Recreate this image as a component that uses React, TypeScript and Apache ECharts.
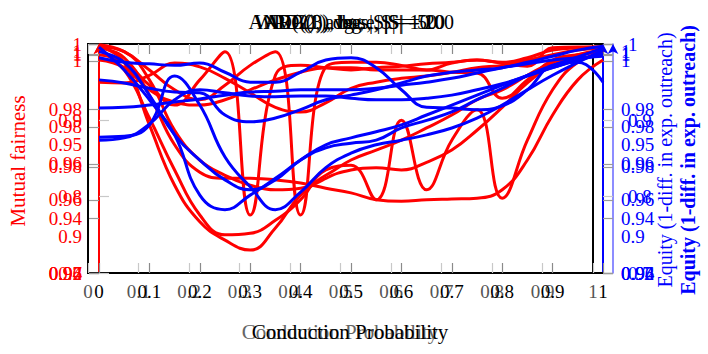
import React, { useEffect, useRef } from "react";
import * as echarts from "echarts";

// Conduction probability grid
const X = [0, 0.05, 0.1, 0.15, 0.2, 0.25, 0.3, 0.35, 0.4, 0.45, 0.5, 0.55, 0.6, 0.65, 0.7, 0.75, 0.8, 0.85, 0.9, 0.95, 1];

// Mutual fairness (red)
const redA = [0.997, 0.976, 0.894, 0.815, 0.767, 0.743, 0.730, 0.759, 0.802, 0.824, 0.835, 0.838, 0.835, 0.845, 0.861, 0.887, 0.917, 0.949, 0.972, 0.984, 0.992];
const redB = [0.992, 0.966, 0.903, 0.835, 0.776, 0.750, 0.752, 0.769, 0.796, 0.835, 0.841, 0.796, 0.900, 0.809, 0.874, 0.914, 0.798, 0.874, 0.940, 0.976, 0.988];
const redC = [0.995, 0.982, 0.933, 0.868, 0.832, 0.824, 0.824, 0.822, 0.818, 0.811, 0.805, 0.796, 0.794, 0.796, 0.797, 0.798, 0.809, 0.848, 0.907, 0.953, 0.979];
const redD = [0.986, 0.976, 0.946, 0.920, 0.953, 0.990, 0.776, 0.959, 0.972, 0.969, 0.966, 0.969, 0.971, 0.974, 0.976, 0.979, 0.976, 0.982, 0.992, 0.995, 0.996];
const redE = [0.999, 0.990, 0.966, 0.940, 0.927, 0.946, 0.972, 0.990, 0.776, 0.970, 0.976, 0.976, 0.972, 0.966, 0.975, 0.979, 0.975, 0.971, 0.995, 0.996, 0.996];
const redF = [0.950, 0.949, 0.959, 0.975, 0.970, 0.955, 0.936, 0.917, 0.911, 0.923, 0.942, 0.950, 0.955, 0.958, 0.963, 0.969, 0.972, 0.979, 0.986, 0.992, 0.995];
const redG = [0.979, 0.969, 0.940, 0.924, 0.920, 0.927, 0.940, 0.953, 0.963, 0.969, 0.969, 0.966, 0.966, 0.966, 0.963, 0.962, 0.929, 0.953, 0.979, 0.986, 0.990];
const redH = [0.996, 0.990, 0.953, 0.887, 0.848, 0.828, 0.815, 0.809, 0.811, 0.828, 0.848, 0.861, 0.874, 0.890, 0.907, 0.927, 0.940, 0.959, 0.976, 0.986, 0.992];

// Equity (blue)
const blueA = [0.982, 0.976, 0.974, 0.972, 0.975, 0.963, 0.950, 0.950, 0.963, 0.979, 0.982, 0.969, 0.940, 0.917, 0.916, 0.914, 0.919, 0.940, 0.972, 0.976, 0.950];
const blueB = [0.916, 0.917, 0.920, 0.924, 0.928, 0.933, 0.937, 0.938, 0.940, 0.940, 0.940, 0.942, 0.946, 0.950, 0.955, 0.962, 0.969, 0.974, 0.979, 0.982, 0.984];
const blueC = [0.953, 0.949, 0.942, 0.937, 0.936, 0.907, 0.898, 0.903, 0.914, 0.927, 0.933, 0.940, 0.949, 0.958, 0.963, 0.966, 0.969, 0.976, 0.984, 0.992, 0.997];
const blueD = [0.878, 0.879, 0.894, 0.958, 0.920, 0.852, 0.813, 0.783, 0.806, 0.838, 0.857, 0.868, 0.874, 0.881, 0.890, 0.903, 0.920, 0.940, 0.959, 0.976, 0.992];
const blueE = [0.996, 0.966, 0.927, 0.881, 0.802, 0.783, 0.802, 0.824, 0.848, 0.868, 0.877, 0.885, 0.894, 0.907, 0.920, 0.933, 0.946, 0.959, 0.969, 0.979, 0.986];
const blueF = [0.990, 0.976, 0.933, 0.881, 0.848, 0.822, 0.809, 0.822, 0.848, 0.864, 0.870, 0.874, 0.890, 0.900, 0.911, 0.927, 0.942, 0.959, 0.972, 0.983, 0.995];
const blueG = [0.874, 0.877, 0.895, 0.927, 0.940, 0.936, 0.932, 0.931, 0.932, 0.932, 0.929, 0.927, 0.927, 0.929, 0.933, 0.940, 0.948, 0.958, 0.969, 0.979, 0.988];

const redSeries = [redA, redB, redC, redD, redE, redF, redG, redH];
const blueSeries = [blueA, blueB, blueC, blueD, blueE, blueF, blueG];

// Overlaid y-axis scales: [min, max, tick step, label step]
const axisScales = [
  [0.7, 1.0, 0.1, 0.1],
  [0.92, 1.004, 0.02, 0.02],
  [0.88, 1.0043, 0.01, 0.05],
  [0.94, 1.0027, 0.02, 0.02],
  [0.96, 1.0032, 0.02, 0.02],
];

const titles = ["AND(2), avg., |S| = 10", "AVG(3), base, |S| = 20", "WPD(2), deg., |S| = 50", "ARP(1), lbas., |S| = 100"];
const xName = "Conduction Probability";
const leftName = "Mutual fairness";
const rightName = "Equity (1-diff. in exp. outreach)";

const FONT = "Liberation Serif";

function fmt(step: number) {
  return (v: number) => {
    const k = v / step;
    if (Math.abs(k - Math.round(k)) > 1e-6) return "";
    return String(Number(v.toFixed(2)));
  };
}

export default function App() {
  const ref = useRef<HTMLDivElement>(null);
  useEffect(() => {
    if (!ref.current) return;
    const chart = echarts.init(ref.current, null, { renderer: "svg" });

    const xAxes: any[] = [];
    const mkX = (gridIndex: number, position: string, showLabel: boolean, labelColor: string, tickColor: string) => ({
      type: "value",
      gridIndex,
      position,
      min: 0,
      max: 1,
      interval: 0.1,
      axisLine: { show: true, lineStyle: { color: "#000", width: 2 } },
      axisTick: { show: true, inside: true, length: 10, lineStyle: { color: tickColor, width: 1.2 } },
      axisLabel: {
        show: showLabel,
        color: labelColor,
        fontFamily: FONT,
        fontSize: 19,
        margin: 9,
        formatter: fmt(0.1),
      },
      splitLine: { show: false },
    });
    xAxes.push(mkX(0, "bottom", true, "#555", "#c8c8c8"));
    xAxes.push(mkX(0, "top", false, "#555", "#c8c8c8"));
    xAxes.push(mkX(1, "bottom", true, "#000", "#8a8a8a"));
    xAxes.push(mkX(1, "top", false, "#000", "#8a8a8a"));

    const yAxes: any[] = [{ type: "value", gridIndex: 0, show: false, min: 0.7, max: 1 }];
    const sides: [string, string][] = [["left", "#ff0000"], ["right", "#0000ff"]];
    sides.forEach(([pos, color]) => {
      axisScales.forEach((s, i) => {
        const [mn, mx, step, lstep] = s;
        yAxes.push({
          type: "value",
          gridIndex: 1,
          position: pos,
          offset: i === 0 ? (pos === "left" ? 11 : 10) : 0,
          min: mn,
          max: mx,
          interval: step,
          axisLine: {
            show: i <= 1,
            symbol: ["none", "arrow"],
            symbolSize: [8, 10],
            lineStyle: { color, width: i === 0 ? 1.5 : 2, opacity: i === 0 ? 0.6 : 1 },
          },
          axisTick: {
            show: step === lstep,
            inside: i === 0,
            length: 10,
            lineStyle: { color: i === 0 ? "#c8c8c8" : "#9a9a9a", width: 1.2 },
          },
          axisLabel: {
            color,
            fontFamily: FONT,
            fontSize: 19,
            margin: i === 0 ? (pos === "left" ? 6 : 15) : (pos === "left" ? 17 : 18),
            formatter: fmt(lstep),
          },
          splitLine: { show: false },
        });
      });
    });

    const series: any[] = [];
    redSeries.forEach((arr) => {
      series.push({
        type: "line",
        xAxisIndex: 2,
        yAxisIndex: 1,
        data: X.map((x, i) => [x, arr[i]]),
        smooth: 0.45,
        showSymbol: false,
        lineStyle: { color: "#ff0000", width: 3 },
        z: 3,
      });
    });
    blueSeries.forEach((arr) => {
      series.push({
        type: "line",
        xAxisIndex: 2,
        yAxisIndex: 6,
        data: X.map((x, i) => [x, arr[i]]),
        smooth: 0.45,
        showSymbol: false,
        lineStyle: { color: "#0000ff", width: 3 },
        z: 4,
      });
    });

    const graphic: any[] = [];
    const offs = [-10, 6, -3, 10];
    titles.forEach((t, i) => {
      graphic.push({
        type: "text",
        x: 349 + offs[i],
        y: 22,
        style: { text: t, fill: "#000", font: `20px "${FONT}"`, textAlign: "center", textVerticalAlign: "middle" },
      });
    });
    graphic.push({
      type: "text", x: 340, y: 332,
      style: { text: xName, fill: "#666", font: `21px "${FONT}"`, textAlign: "center", textVerticalAlign: "middle" },
    });
    graphic.push({
      type: "text", x: 350, y: 332,
      style: { text: xName, fill: "#000", font: `21px "${FONT}"`, textAlign: "center", textVerticalAlign: "middle" },
    });
    graphic.push({
      type: "text", x: 18, y: 161, rotation: Math.PI / 2,
      style: { text: leftName, fill: "#ff0000", font: `21px "${FONT}"`, textAlign: "center", textVerticalAlign: "middle" },
    });
    graphic.push({
      type: "text", x: 665, y: 160, rotation: Math.PI / 2,
      style: { text: rightName, fill: "#0000ff", font: `20px "${FONT}"`, textAlign: "center", textVerticalAlign: "middle" },
    });
    graphic.push({
      type: "text", x: 688, y: 160, rotation: Math.PI / 2,
      style: { text: rightName, fill: "#0000ff", font: `bold 20px "${FONT}"`, textAlign: "center", textVerticalAlign: "middle" },
    });

    chart.setOption({
      animation: false,
      grid: [
        { left: 88, right: 115, top: 44, bottom: 81, show: true, borderColor: "#000", borderWidth: 2, backgroundColor: "transparent" },
        { left: 99, right: 105, top: 44, bottom: 81, show: true, borderColor: "#000", borderWidth: 2, backgroundColor: "transparent" },
      ],
      xAxis: xAxes,
      yAxis: yAxes,
      series,
      graphic,
    });
    return () => chart.dispose();
  }, []);
  return <div ref={ref} style={{ position: "fixed", left: 0, top: 0, width: 708, height: 354, background: "#fff" }} />;
}
